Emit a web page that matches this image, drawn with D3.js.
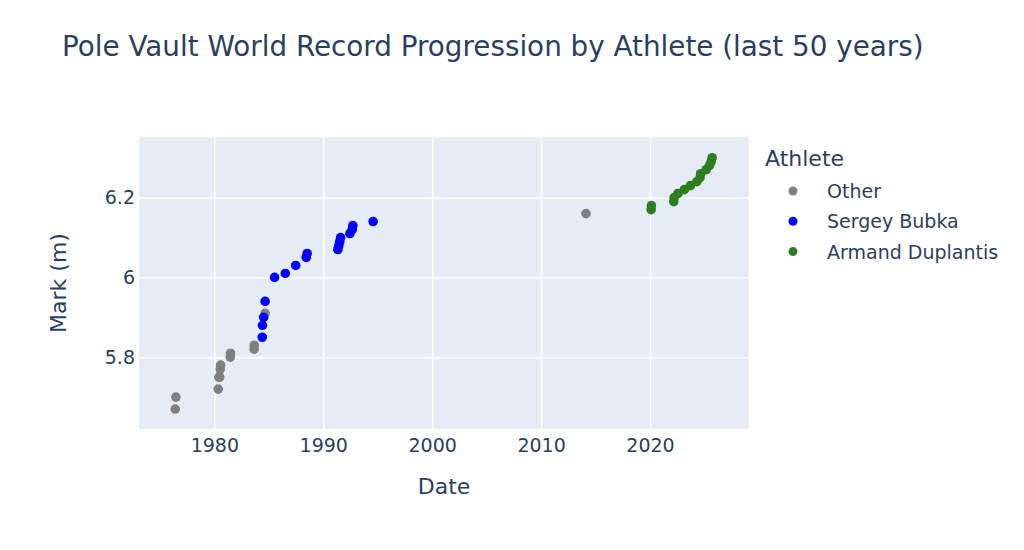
<!DOCTYPE html>
<html lang="en">
	<head>
		<meta charset="utf-8">
		<title>Pole Vault World Record Progression</title>
		<script src="https://d3js.org/d3.v7.min.js" charset="utf-8"></script>
		<style type="text/css">
			body { margin: 0; background: #fff; }
			text { font-family: "DejaVu Sans", Verdana, sans-serif; fill: #2a3f5f; }
		</style>
	</head>
	<body>
		<script type="text/javascript">

		// record dates, marks and who set them
		var dates = [
			"1976-05-29", "1976-06-22",
			"1980-05-11", "1980-06-01", "1980-06-29", "1980-07-17", "1980-07-30",
			"1981-06-20", "1981-06-26",
			"1983-08-28", "1983-09-01",
			"1984-05-26", "1984-06-02", "1984-07-13", "1984-08-31", "1984-08-31",
			"1985-07-13", "1986-07-08", "1987-06-23", "1988-06-09", "1988-07-10",
			"1991-05-06", "1991-06-09", "1991-07-08", "1991-08-05",
			"1992-06-13", "1992-08-30", "1992-09-19", "1994-07-31",
			"2014-02-15",
			"2020-02-08", "2020-02-15",
			"2022-03-07", "2022-03-20", "2022-07-24",
			"2023-02-25", "2023-09-17",
			"2024-04-20", "2024-08-05", "2024-08-25",
			"2025-02-28", "2025-06-15", "2025-08-12", "2025-09-15"
		];
		var marks = [
			5.67, 5.70,
			5.72, 5.75, 5.75, 5.77, 5.78,
			5.80, 5.81,
			5.82, 5.83,
			5.85, 5.88, 5.90, 5.91, 5.94,
			6.00, 6.01, 6.03, 6.05, 6.06,
			6.07, 6.08, 6.09, 6.10,
			6.11, 6.12, 6.13, 6.14,
			6.16,
			6.17, 6.18,
			6.19, 6.20, 6.21,
			6.22, 6.23,
			6.24, 6.25, 6.26,
			6.27, 6.28, 6.29, 6.30
		];
		var athletes = [
			"Other", "Other",
			"Other", "Other", "Other", "Other", "Other",
			"Other", "Other",
			"Other", "Other",
			"Sergey Bubka", "Sergey Bubka", "Sergey Bubka", "Other", "Sergey Bubka",
			"Sergey Bubka", "Sergey Bubka", "Sergey Bubka", "Sergey Bubka", "Sergey Bubka",
			"Sergey Bubka", "Sergey Bubka", "Sergey Bubka", "Sergey Bubka",
			"Sergey Bubka", "Sergey Bubka", "Sergey Bubka", "Sergey Bubka",
			"Other",
			"Armand Duplantis", "Armand Duplantis",
			"Armand Duplantis", "Armand Duplantis", "Armand Duplantis",
			"Armand Duplantis", "Armand Duplantis",
			"Armand Duplantis", "Armand Duplantis", "Armand Duplantis",
			"Armand Duplantis", "Armand Duplantis", "Armand Duplantis", "Armand Duplantis"
		];

		var groups = ["Other", "Sergey Bubka", "Armand Duplantis"];
		var groupColors = ["#808080", "#0000ff", "#2f7d1f"];
		var yTicks = [5.8, 6, 6.2];

		var w = 1024;
		var h = 550;
		var plot = { left: 139, top: 137, right: 749, bottom: 429 };

		var svg = d3.select("body")
					.append("svg")
					.attr("width", w)
					.attr("height", h);

		svg.append("rect")
			.attr("width", w)
			.attr("height", h)
			.attr("fill", "#fff");

		var x = d3.scaleUtc()
			.domain([new Date(Date.UTC(1973, 1, 1)), new Date(Date.UTC(2029, 1, 1))])
			.range([plot.left, plot.right]);

		var y = d3.scaleLinear()
			.domain([5.62, 6.352])
			.range([plot.bottom, plot.top]);

		var color = d3.scaleOrdinal().domain(groups).range(groupColors);

		svg.append("rect")
			.attr("x", plot.left)
			.attr("y", plot.top)
			.attr("width", plot.right - plot.left)
			.attr("height", plot.bottom - plot.top)
			.attr("fill", "#e5ecf6");

		// axes with gridlines
		var xAxis = d3.axisBottom(x)
			.ticks(d3.utcYear.every(10))
			.tickFormat(d3.utcFormat("%Y"))
			.tickSize(-(plot.bottom - plot.top))
			.tickPadding(10);

		var gx = svg.append("g")
			.attr("transform", "translate(0," + plot.bottom + ")")
			.call(xAxis);

		var yAxis = d3.axisLeft(y)
			.tickValues(yTicks)
			.tickFormat(function(d) { return +d.toFixed(1); })
			.tickSize(-(plot.right - plot.left))
			.tickPadding(4);

		var gy = svg.append("g")
			.attr("transform", "translate(" + plot.left + ",0)")
			.call(yAxis);

		[gx, gy].forEach(function(g) {
			g.select(".domain").remove();
			g.selectAll(".tick line").attr("stroke", "#fff").attr("stroke-width", 1.5);
			g.selectAll(".tick text")
				.attr("font-size", 19)
				.attr("font-family", null)
				.attr("fill", "#2a3f5f");
		});
		gx.selectAll(".tick text").attr("dy", "0.71em");

		// points, one layer per athlete
		var data = dates.map(function(d, i) {
			return { date: new Date(d + "T00:00:00Z"), mark: marks[i], athlete: athletes[i] };
		});

		groups.forEach(function(gName) {
			svg.append("g")
				.selectAll("circle")
				.data(data.filter(function(d) { return d.athlete === gName; }))
				.enter()
				.append("circle")
				.attr("cx", function(d) { return x(d.date); })
				.attr("cy", function(d) { return y(d.mark); })
				.attr("r", 4.8)
				.attr("fill", color(gName));
		});

		// titles
		svg.append("text")
			.attr("x", 62)
			.attr("y", 56)
			.attr("font-size", 27.8)
			.text("Pole Vault World Record Progression by Athlete (last 50 years)");

		svg.append("text")
			.attr("x", (plot.left + plot.right) / 2)
			.attr("y", 494)
			.attr("text-anchor", "middle")
			.attr("font-size", 22)
			.text("Date");

		svg.append("text")
			.attr("transform", "translate(66," + ((plot.top + plot.bottom) / 2) + ") rotate(-90)")
			.attr("text-anchor", "middle")
			.attr("font-size", 22)
			.text("Mark (m)");

		// legend
		var legend = svg.append("g");
		legend.append("text")
			.attr("x", 765)
			.attr("y", 166)
			.attr("font-size", 22)
			.text("Athlete");

		var items = legend.selectAll("g.item")
			.data(groups)
			.enter()
			.append("g")
			.attr("class", "item")
			.attr("transform", function(d, i) { return "translate(0," + (191 + i * 30.3) + ")"; });

		items.append("circle")
			.attr("cx", 793)
			.attr("cy", 0)
			.attr("r", 4.5)
			.attr("fill", function(d) { return color(d); });

		items.append("text")
			.attr("x", 827)
			.attr("y", 7)
			.attr("font-size", 19)
			.text(function(d) { return d; });

		</script>
	</body>
</html>
